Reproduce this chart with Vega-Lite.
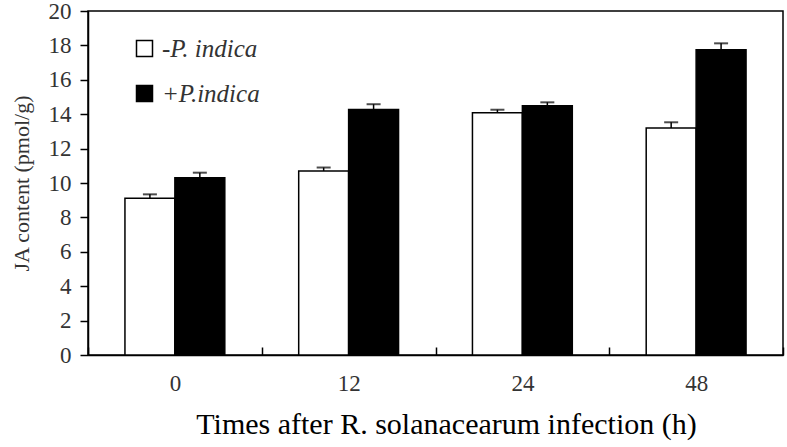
{
  "$schema": "https://vega.github.io/schema/vega-lite/v6.json",
  "autosize": {"type": "none"},
  "padding": {"left": 88, "top": 11, "right": 4, "bottom": 92},
  "width": 695,
  "height": 344,
  "background": "white",
  "config": {
    "view": {"stroke": "black", "strokeWidth": 1.5},
    "font": "Liberation Serif"
  },
  "data": {
    "values": [
      {"time": "0", "treatment": "-P. indica", "value": 9.12, "err": 0.22},
      {"time": "0", "treatment": "+P.indica", "value": 10.3, "err": 0.3},
      {"time": "12", "treatment": "-P. indica", "value": 10.7, "err": 0.2},
      {"time": "12", "treatment": "+P.indica", "value": 14.28, "err": 0.3},
      {"time": "24", "treatment": "-P. indica", "value": 14.09, "err": 0.17},
      {"time": "24", "treatment": "+P.indica", "value": 14.49, "err": 0.2},
      {"time": "48", "treatment": "-P. indica", "value": 13.2, "err": 0.33},
      {"time": "48", "treatment": "+P.indica", "value": 17.75, "err": 0.37}
    ]
  },
  "transform": [{"calculate": "datum.value + datum.err", "as": "top"}],
  "encoding": {
    "x": {
      "field": "time", "type": "nominal", "sort": ["0", "12", "24", "48"],
      "scale": {"paddingInner": 0, "paddingOuter": 0},
      "axis": {
        "title": "Times after R. solanacearum infection (h)",
        "titleFont": "Liberation Serif", "titleFontSize": 30, "titleFontWeight": "normal",
        "titleColor": "black", "titlePadding": 14, "titleX": 358,
        "labelFont": "Liberation Serif", "labelFontSize": 23, "labelColor": "#333", "labelAngle": 0,
        "labelPadding": 25,
        "tickBand": "extent", "tickSize": -8, "tickColor": "black", "tickWidth": 1.5,
        "domainColor": "black", "domainWidth": 1.5
      }
    },
    "xOffset": {
      "field": "treatment", "type": "nominal", "sort": ["-P. indica", "+P.indica"],
      "scale": {"paddingInner": 0, "paddingOuter": 0.74}
    },
    "y": {
      "field": "value", "type": "quantitative",
      "scale": {"domain": [0, 20], "nice": false},
      "axis": {
        "values": [0, 2, 4, 6, 8, 10, 12, 14, 16, 18, 20],
        "labelOverlap": false,
        "grid": false,
        "title": "JA content (pmol/g)",
        "titleFont": "Liberation Serif", "titleFontSize": 22, "titleFontWeight": "normal",
        "titleColor": "#333", "titleX": -67, "titleY": 172, "titleBaseline": "middle",
        "labelFont": "Liberation Serif", "labelFontSize": 23, "labelColor": "#333",
        "labelPadding": 9, "tickSize": 8, "tickColor": "black", "tickWidth": 1.5,
        "domainColor": "black", "domainWidth": 1.5
      }
    }
  },
  "layer": [
    {
      "mark": {"type": "bar", "stroke": "black", "strokeWidth": 1.5},
      "encoding": {
        "fill": {
          "field": "treatment", "type": "nominal",
          "scale": {"domain": ["-P. indica", "+P.indica"], "range": ["white", "black"]},
          "legend": {
            "title": null, "orient": "none", "legendX": 44, "legendY": 25,
            "padding": 0,
            "symbolType": "square", "symbolSize": 256, "symbolStrokeColor": "black",
            "symbolStrokeWidth": 1.5, "symbolOpacity": 1,
            "labelFont": "Liberation Serif", "labelFontSize": 25, "labelFontStyle": "italic",
            "labelColor": "#333", "labelOffset": 5, "rowPadding": 19
          }
        }
      }
    },
    {
      "mark": {"type": "rule", "color": "black", "strokeWidth": 1.5},
      "encoding": {
        "y2": {"field": "top"}
      }
    },
    {
      "mark": {"type": "tick", "color": "black", "size": 14, "thickness": 2},
      "encoding": {
        "y": {
          "field": "top", "type": "quantitative",
          "scale": {"domain": [0, 20], "nice": false},
          "axis": {
            "values": [0, 2, 4, 6, 8, 10, 12, 14, 16, 18, 20],
            "labelOverlap": false,
            "grid": false,
            "title": "JA content (pmol/g)",
            "titleFont": "Liberation Serif", "titleFontSize": 22, "titleFontWeight": "normal",
            "titleColor": "#333", "titleX": -67, "titleY": 172, "titleBaseline": "middle",
            "labelFont": "Liberation Serif", "labelFontSize": 23, "labelColor": "#333",
            "labelPadding": 9, "tickSize": 8, "tickColor": "black", "tickWidth": 1.5,
            "domainColor": "black", "domainWidth": 1.5
          }
        }
      }
    }
  ]
}
